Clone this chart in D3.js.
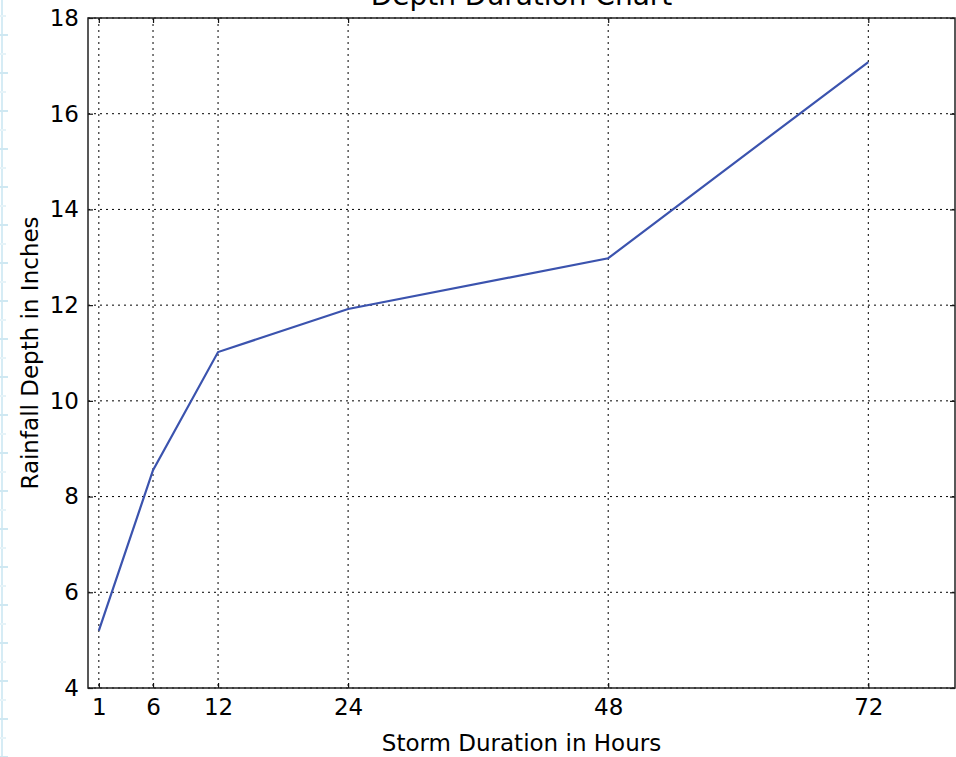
<!DOCTYPE html>
<html>
<head>
<meta charset="utf-8">
<script src="https://cdn.jsdelivr.net/npm/d3@7"></script>
<style>
  body { margin: 0; background: #fff; }
  svg { display: block; font-family: "DejaVu Sans", sans-serif; }
</style>
</head>
<body>
<svg id="chart" width="956" height="757"></svg>
<script>
// Storm duration (hours) vs rainfall depth (inches)
const durations = [1, 6, 12, 24, 48, 72];
const depths = [5.2, 8.55, 11.02, 11.92, 12.98, 17.08];
const xTicks = [1, 6, 12, 24, 48, 72];
const yTicks = [4, 6, 8, 10, 12, 14, 16, 18];

const title = "Depth Duration Chart";
const xLabel = "Storm Duration in Hours";
const yLabel = "Rainfall Depth in Inches";

const margin = { top: 18, right: 1, bottom: 69, left: 88 };
const width = 956 - margin.left - margin.right;
const height = 757 - margin.top - margin.bottom;

const svg = d3.select("#chart");

// faint ruler at the very left edge of the scan
const ruler = svg.append("g").attr("stroke", "#d6ecf5");
ruler.append("line").attr("x1", 2).attr("x2", 2).attr("y1", 0).attr("y2", 757).attr("stroke-width", 2);
d3.range(0, 757, 19).forEach((yy, i) => {
  ruler.append("line")
    .attr("x1", 0).attr("x2", i % 2 ? 8 : 6)
    .attr("y1", yy + 16).attr("y2", yy + 16)
    .attr("stroke", i % 2 ? "#cfe8f2" : "#e6f3f8")
    .attr("stroke-width", 2);
});

const g = svg.append("g").attr("transform", `translate(${margin.left},${margin.top})`);

const x = d3.scaleLinear().domain([0, 80]).range([0, width]);
const y = d3.scaleLinear().domain([4, 18]).range([height, 0]);

// grid
g.append("g")
  .selectAll("line")
  .data(xTicks)
  .join("line")
  .attr("x1", (d) => x(d)).attr("x2", (d) => x(d))
  .attr("y1", 0).attr("y2", height)
  .attr("stroke", "#000")
  .attr("stroke-width", 1)
  .attr("stroke-dasharray", "2,4");

g.append("g")
  .selectAll("line")
  .data(yTicks)
  .join("line")
  .attr("x1", 0).attr("x2", width)
  .attr("y1", (d) => y(d)).attr("y2", (d) => y(d))
  .attr("stroke", "#000")
  .attr("stroke-width", 1)
  .attr("stroke-dasharray", "2,4");

// axes, ticks pointing inward
const axBottom = g.append("g")
  .attr("transform", `translate(0,${height})`)
  .call(d3.axisBottom(x).tickValues(xTicks).tickSize(-5).tickPadding(11));
const axTop = g.append("g")
  .call(d3.axisTop(x).tickValues(xTicks).tickSize(-5).tickFormat(""));
const axLeft = g.append("g")
  .call(d3.axisLeft(y).tickValues(yTicks).tickSize(-5).tickPadding(9));
const axRight = g.append("g")
  .attr("transform", `translate(${width},0)`)
  .call(d3.axisRight(y).tickValues(yTicks).tickSize(-5).tickFormat(""));

[axBottom, axTop, axLeft, axRight].forEach((a) => {
  a.select(".domain").remove();
  a.selectAll(".tick line").attr("stroke", "#111").attr("stroke-width", 1.2);
  a.selectAll("text").attr("fill", "#000").style("font-size", "23px")
    .style("font-family", "DejaVu Sans, sans-serif");
});

// frame
g.append("rect")
  .attr("x", 0).attr("y", 0)
  .attr("width", width).attr("height", height)
  .attr("fill", "none")
  .attr("stroke", "#222")
  .attr("stroke-width", 1.5);

// data line
const line = d3.line()
  .x((d, i) => x(durations[i]))
  .y((d) => y(d));

g.append("path")
  .datum(depths)
  .attr("fill", "none")
  .attr("stroke", "#3b53ae")
  .attr("stroke-width", 2.2)
  .attr("d", line);

// labels
svg.append("text")
  .attr("x", margin.left + width / 2)
  .attr("y", 5)
  .attr("text-anchor", "middle")
  .style("font-size", "28px")
  .text(title);

svg.append("text")
  .attr("x", margin.left + width / 2)
  .attr("y", 751)
  .attr("text-anchor", "middle")
  .style("font-size", "23px")
  .text(xLabel);

svg.append("text")
  .attr("transform", `translate(38,${margin.top + height / 2}) rotate(-90)`)
  .attr("text-anchor", "middle")
  .style("font-size", "23px")
  .text(yLabel);
</script>
</body>
</html>
